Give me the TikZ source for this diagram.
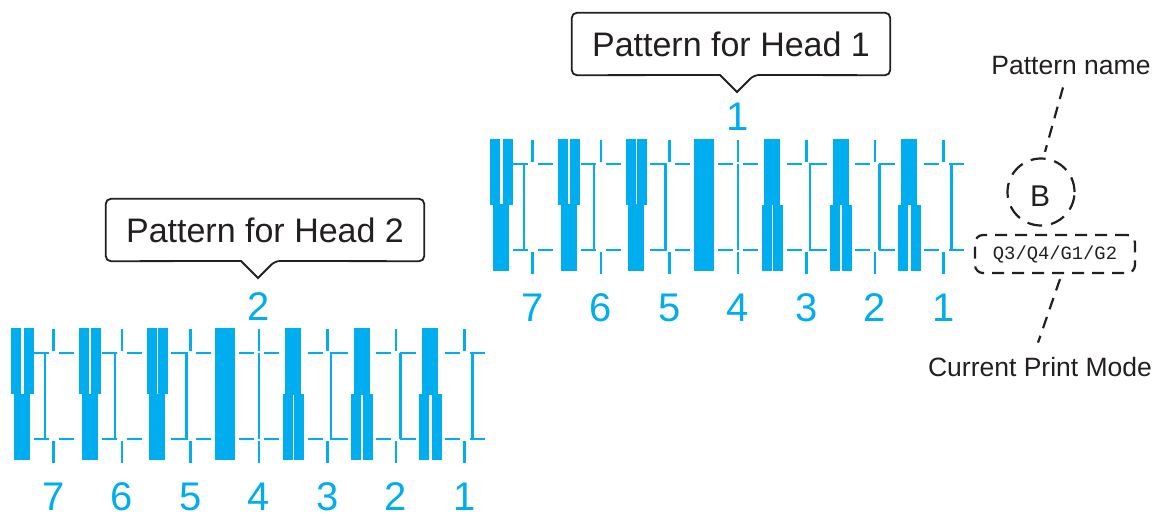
\documentclass[tikz,border=0pt]{standalone}
\usepackage{fontspec}
\setmainfont{Liberation Sans}
\newfontfamily\modefont{Liberation Mono}
\definecolor{padblue}{HTML}{00AEEF}
\definecolor{inkgray}{HTML}{231F20}
\tikzset{
  patline/.style={padblue,line width=2.1pt},
  patbar/.style={fill=padblue},
  patnum/.style={padblue,font=\fontsize{40}{40}\selectfont,anchor=base,inner sep=0pt},
  calltext/.style={font=\fontsize{34}{38}\selectfont,text=inkgray,minimum width=318pt,minimum height=62pt,inner sep=0pt},
  callline/.style={inkgray,line width=1.8pt},
  dashline/.style={inkgray,line width=2.2pt,dash pattern=on 12pt off 8pt},
  sidelabel/.style={font=\fontsize{26.5}{30}\selectfont,text=inkgray,anchor=base,inner sep=0pt},
}
\begin{document}
\begin{tikzpicture}[x=1pt,y=-1pt]
  \useasboundingbox (0,0) rectangle (1160,516);

  % the two alignment patterns, head 2 is the lower left copy
  \foreach \dx/\dy/\hd in {0/0/1,-479/189/2}{
    \begin{scope}[shift={(\dx,\dy)}]
      \foreach \k/\off in {1/8,2/4.5,3/3.2,4/0,5/-4,6/-6.7,7/-8.4}{
        \pgfmathsetmacro\tx{738+(4-\k)*68.5}
        \pgfmathsetmacro\gap{abs(4-\k)}
        \pgfmathsetmacro\cx{\tx-34.25+max(\k-4,0)}
        \pgfmathsetmacro\le{\k>4 ? max(-5,\off+1) : -5}
        \pgfmathsetmacro\rs{\k<4 ? min(5,\off-1) : 5}
        % bars
        \ifnum\k=4
          \fill[patbar] ({\cx-10},139) rectangle ({\cx+10},271);
        \else
          \ifnum\k>4
            \fill[patbar] ({\cx-10-\gap/2},139) rectangle ({\cx-\gap/2},205);
            \fill[patbar] ({\cx+\gap/2},139) rectangle ({\cx+10+\gap/2},205);
            \fill[patbar] ({\cx-8},204.5) rectangle ({\cx+8},271);
          \else
            \fill[patbar] ({\cx-8},139) rectangle ({\cx+8},205.5);
            \fill[patbar] ({\cx-10-\gap/2},205) rectangle ({\cx-\gap/2},271);
            \fill[patbar] ({\cx+\gap/2},205) rectangle ({\cx+10+\gap/2},271);
          \fi
        \fi
        % cross marks
        \draw[patline] (\tx,140) -- (\tx,162) (\tx,252) -- (\tx,274);
        \foreach \yy in {164,250}
          \draw[patline] ({\tx-20},\yy) -- ({\tx+\le},\yy) ({\tx+\rs},\yy) -- ({\tx+20},\yy);
        \draw[patline] ({\tx+\off},164) -- ({\tx+\off},250);
        \node[patnum] (n\hd-\k) at (\tx,321) {\k};
      }
      \node[patnum] (h\hd) at (738,131) {\hd};
    \end{scope}
  }

  % callouts
  \node[calltext] (hd1) at (731,44) {Pattern for Head 1};
  \coordinate (hd1tip) at (737,92);
  \draw[callline] ([shift={(-17pt,17pt)}]hd1tip) [rounded corners=5pt] -- (hd1.south west)
    -- (hd1.north west) -- (hd1.north east) -- (hd1.south east)
    -- ([shift={(17pt,17pt)}]hd1tip) [sharp corners] -- (hd1tip) -- cycle;

  \node[calltext] (hd2) at (265,230) {Pattern for Head 2};
  \coordinate (hd2tip) at (258,278);
  \draw[callline] ([shift={(-17pt,17pt)}]hd2tip) [rounded corners=5pt] -- (hd2.south west)
    -- (hd2.north west) -- (hd2.north east) -- (hd2.south east)
    -- ([shift={(17pt,17pt)}]hd2tip) [sharp corners] -- (hd2tip) -- cycle;

  % pattern name and print mode
  \node[sidelabel] (pname) at (1071,75) {Pattern name};
  \node[circle,draw=inkgray,line width=2.2pt,dash pattern=on 15pt off 9pt,minimum size=67pt,inner sep=0pt] (pcirc) at (1041,192) {};
  \node[font=\fontsize{30}{30}\selectfont,text=inkgray,anchor=base,inner sep=0pt] (pletter) at (1040,207) {B};
  \node[dashline,draw,rounded corners=8pt,minimum width=160pt,minimum height=38pt,inner sep=0pt,font=\modefont\fontsize{18.8}{20}\selectfont] (pmode) at (1055,254) {Q3/Q4/G1/G2};
  \node[sidelabel] (cmode) at (1040,376) {Current Print Mode};
  \draw[dashline] ([shift={(-8pt,-12pt)}]pname.south) -- ([shift={(4pt,5.5pt)}]pcirc.north);
  \draw[dashline] ([shift={(5pt,-5pt)}]pmode.south) -- ([shift={(-2pt,14pt)}]cmode.north);
\end{tikzpicture}
\end{document}
